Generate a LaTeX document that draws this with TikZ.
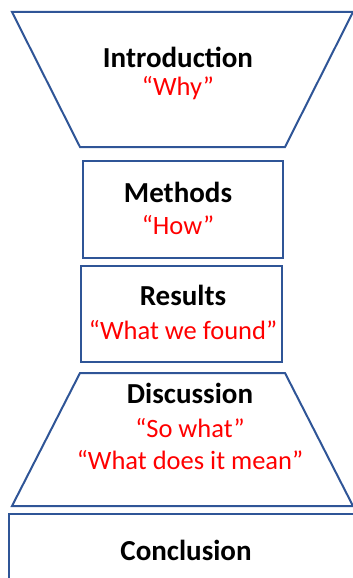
\documentclass[tikz,border=0pt]{standalone}
\usepackage{fontspec}
\setmainfont{Carlito}
\definecolor{frameblue}{RGB}{47,85,151}
\definecolor{quotered}{RGB}{255,0,0}
\tikzset{
  section/.style={draw=frameblue, line width=2pt, line join=miter, fill=white},
  heading/.style={font=\fontsize{29}{32}\selectfont\bfseries, text=black, inner sep=0pt, anchor=center},
  question/.style={font=\fontsize{26.5}{29}\selectfont, text=quotered, inner sep=0pt, anchor=center},
}
\begin{document}
\begin{tikzpicture}[x=1pt, y=-1pt]
  \useasboundingbox (0,0) rectangle (353,578);

  % Introduction: inverted funnel
  \draw[section] (12,12) -- (353,12) -- (285,147) -- (80,147) -- cycle;
  \node[heading]  (intro)  at (178,57)  {Introduction};
  \node[question] (why)    at (178,88)  {“Why”};

  % Methods
  \draw[section] (83,161) rectangle (283,258);
  \node[heading]  (methods) at (178,192) {Methods};
  \node[question] (how)     at (178,225) {“How”};

  % Results
  \draw[section] (81,266) rectangle (282,362);
  \node[heading]  (results) at (183,295) {Results};
  \node[question] (found)   at (183,330) {“What we found”};

  % Discussion: widening funnel
  \draw[section] (80,373) -- (285,373) -- (353,506) -- (12,506) -- cycle;
  \node[heading]  (discussion) at (190,393) {Discussion};
  \node[question] (sowhat)     at (190,428) {“So what”};
  \node[question] (meaning)    at (190,460) {“What does it mean”};

  % Conclusion: open at the bottom and right edge
  \draw[section] (9,590) -- (9,514) -- (360,514) -- (360,590);
  \node[heading]  (conclusion) at (186,550) {Conclusion};
\end{tikzpicture}
\end{document}
